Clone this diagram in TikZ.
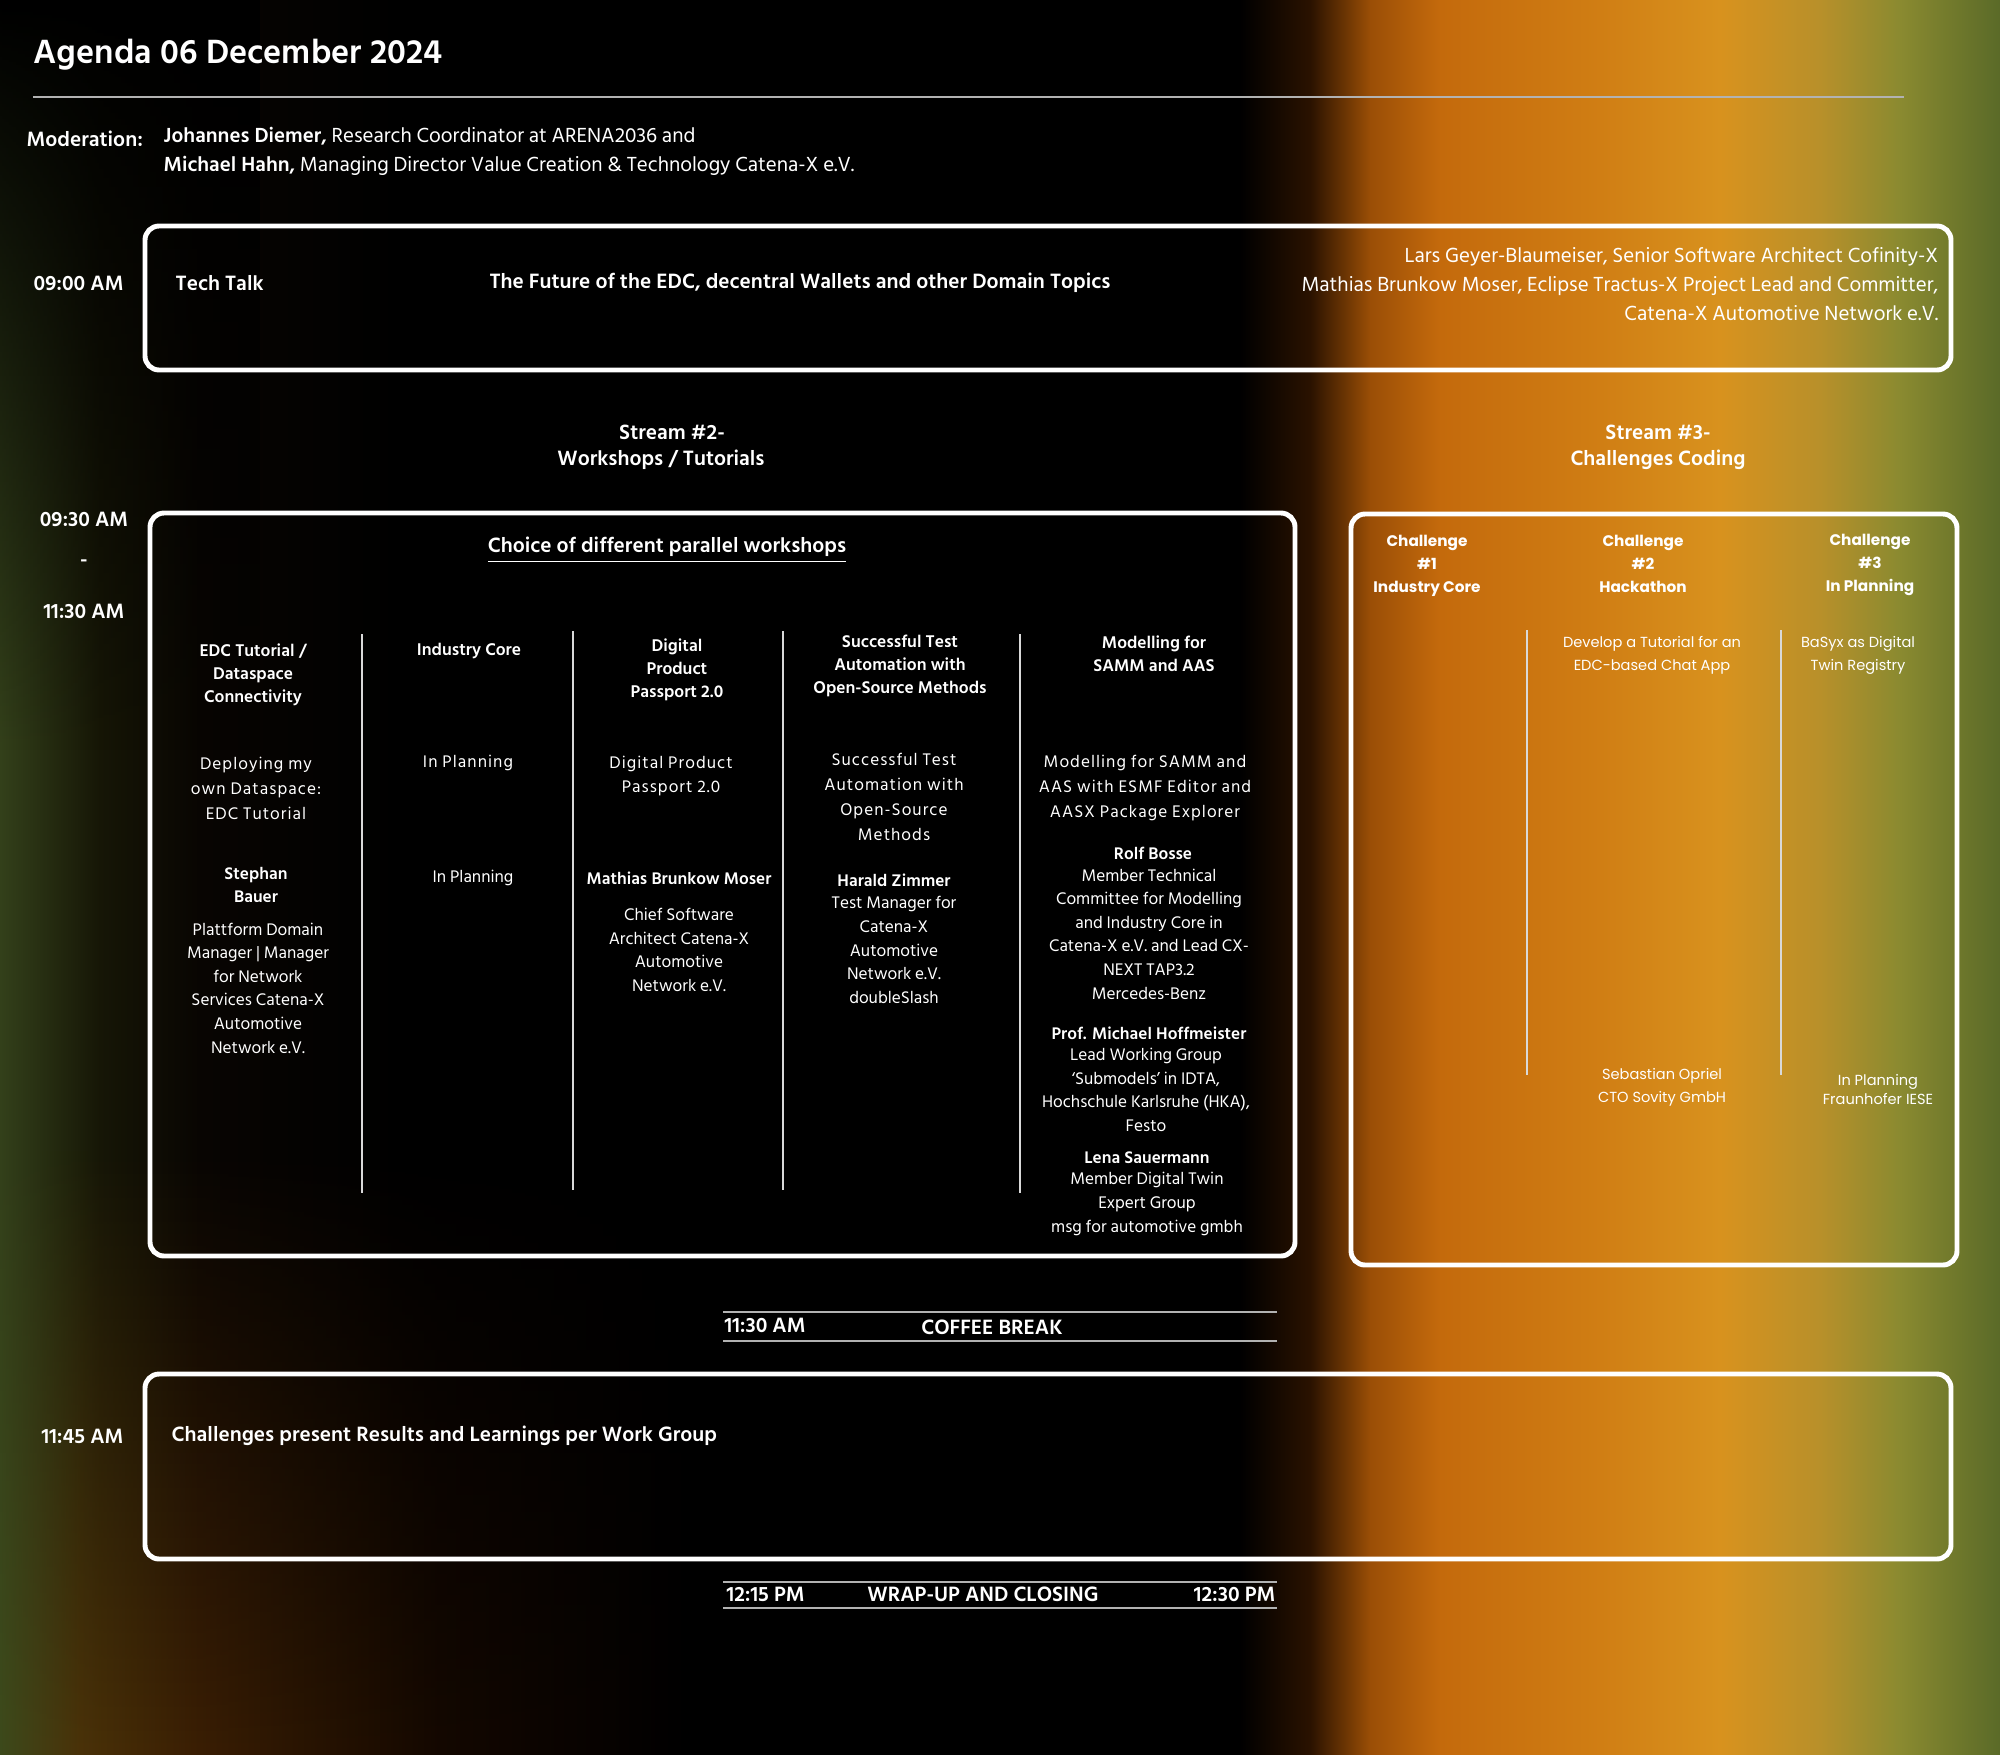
\documentclass[tikz,border=0pt]{standalone}
\usepackage{fontspec}
\setmainfont{Hind Siliguri}
\newfontfamily\espace[LetterSpace=6]{Hind Siliguri}
\newfontfamily\popp{Poppins}
\usetikzlibrary{fadings}

\definecolor{fA}{HTML}{33401A}
\definecolor{fB}{HTML}{161606}
\definecolor{fC}{HTML}{080502}
\definecolor{fD}{HTML}{2A1200}
\definecolor{fE}{HTML}{9A4E06}
\definecolor{fF}{HTML}{C46A0C}
\definecolor{fG}{HTML}{D07E14}
\definecolor{fH}{HTML}{D8921E}
\definecolor{fI}{HTML}{B8902A}
\definecolor{fJ}{HTML}{8A8A30}
\definecolor{fK}{HTML}{5A6A28}
\definecolor{bA}{HTML}{3D4A1C}
\definecolor{bB}{HTML}{4A3208}
\definecolor{bC}{HTML}{3A1E04}
\definecolor{bD}{HTML}{140800}

\pgfdeclarehorizontalshading{fond}{100bp}{color(0bp)=(fA); color(25bp)=(fA);
  color(27.5bp)=(fB); color(30bp)=(fC); color(35bp)=(black); color(56bp)=(black);
  color(57.75bp)=(fD); color(59.25bp)=(fE); color(61bp)=(fF); color(65bp)=(fG);
  color(68bp)=(fH); color(70.5bp)=(fI); color(72.5bp)=(fJ); color(75bp)=(fK);
  color(100bp)=(fK)}
\pgfdeclarehorizontalshading{fondbas}{100bp}{color(0bp)=(bA); color(25bp)=(bA);
  color(29bp)=(bB); color(35bp)=(bC); color(47bp)=(bD); color(60bp)=(black);
  color(100bp)=(black)}

\begin{document}
\begin{tikzpicture}[x=0.01cm, y=-0.01cm,
    every node/.style={text=white, inner sep=0pt},
    cadre/.style={draw=white, line width=1.4pt, rounded corners=4pt},
    trait/.style={draw=white!85!black, line width=0.4pt},
    regle/.style={draw=white!70!black, line width=0.6pt},
    gras/.style={font=\fontsize{6.05}{8.4}\selectfont\bfseries},
    normal/.style={font=\fontsize{5.95}{8.3}\selectfont},
    titrecol/.style={align=center, font=\fontsize{4.95}{6.6}\selectfont\bfseries},
    desc/.style={align=center, font=\espace\fontsize{4.9}{7.1}\selectfont},
    nom/.style={align=center, font=\fontsize{4.9}{6.7}\selectfont\bfseries},
    role/.style={align=center, font=\fontsize{4.9}{6.7}\selectfont},
    defi/.style={align=center, font=\popp\fontsize{4.35}{6.5}\selectfont\bfseries},
    defitxt/.style={align=center, font=\popp\fontsize{4.15}{6.5}\selectfont}]

    % fond
    \shade[shading=fond] (0, 0) rectangle (2000, 1754);
    \fill[black, path fading=south] (0, 0) rectangle (260, 750);
    \shade[shading=fondbas, path fading=north] (0, 1150) rectangle (1000, 1754);

    % titre
    \node[anchor=west, font=\fontsize{9.8}{11}\selectfont\bfseries] (titre) at (33, 55) {Agenda 06 December 2024};
    \draw[regle] (33, 97) -- (1904, 97);
    \node[anchor=west, gras] (moderation) at (26, 139) {Moderation:};
    \node[anchor=west, normal, align=left] (moderateurs) at (163, 151)
        {\textbf{Johannes Diemer,} Research Coordinator at ARENA2036 and\\
         \textbf{Michael Hahn,} Managing Director Value Creation \& Technology Catena-X e.V.};

    % tech talk
    \draw[cadre] (145, 226) rectangle (1951, 370);
    \node[anchor=west, gras] (h0900) at (33, 283) {09:00 AM};
    \node[anchor=west, gras] (techtalk) at (175, 283) {Tech Talk};
    \node[gras] (futur) at (800, 283) {The Future of the EDC, decentral Wallets and other Domain Topics};
    \node[anchor=east, normal, align=right] (orateurs) at (1939, 284)
        {Lars Geyer-Blaumeiser, Senior Software Architect Cofinity-X\\
         Mathias Brunkow Moser, Eclipse Tractus-X Project Lead and Committer,\\
         Catena-X Automotive Network e.V.};

    % streams
    \node[gras] (stream2) at (672, 432) {Stream \#2-};
    \node[gras] (stream2b) at (661, 460) {Workshops / Tutorials};
    \node[gras] (stream3) at (1658, 432) {Stream \#3-};
    \node[gras] (stream3b) at (1658, 460) {Challenges Coding};
    \node[gras] (h0930) at (84, 519) {09:30 AM};
    \node[gras] (tiret) at (84, 563) {-};
    \node[gras] (h1130) at (84, 611) {11:30 AM};

    % stream 2
    \draw[cadre] (150, 513) rectangle (1295, 1256);
    \node[gras] (choix) at (667, 550) {\underline{Choice of different parallel workshops}};
    \draw[trait] (362, 634) -- (362, 1193);
    \draw[trait] (573, 631) -- (573, 1190);
    \draw[trait] (783, 631) -- (783, 1190);
    \draw[trait] (1020, 634) -- (1020, 1193);

    \node[titrecol] (edc) at (253, 675) {EDC Tutorial /\\Dataspace\\Connectivity};
    \node[titrecol] (indcore) at (469, 651) {Industry Core};
    \node[titrecol] (dpp) at (677, 670) {Digital\\Product\\Passport 2.0};
    \node[titrecol] (test) at (900, 666) {Successful Test\\Automation with\\Open-Source Methods};
    \node[titrecol] (samm) at (1154, 654) {Modelling for\\SAMM and AAS};

    \node[desc] (edcdesc) at (256, 788) {Deploying my\\own Dataspace:\\EDC Tutorial};
    \node[desc] (indcoredesc) at (468, 763) {In Planning};
    \node[desc] (dppdesc) at (671, 776) {Digital Product\\Passport 2.0};
    \node[desc] (testdesc) at (894, 797) {Successful Test\\Automation with\\Open-Source\\Methods};
    \node[desc] (sammdesc) at (1145, 788) {Modelling for SAMM and\\AAS with ESMF Editor and\\AASX Package Explorer};

    \node[nom] (bauer) at (256, 885) {Stephan\\Bauer};
    \node[role] (bauerrole) at (258, 988) {Plattform Domain\\Manager | Manager\\for Network\\Services Catena-X\\Automotive\\Network e.V.};
    \node[role] (indcoreorat) at (473, 878) {In Planning};
    \node[nom] (moser) at (679, 878) {Mathias Brunkow Moser};
    \node[role] (moserrole) at (679, 950) {Chief Software\\Architect Catena-X\\Automotive\\Network e.V.};
    \node[nom] (zimmer) at (894, 880) {Harald Zimmer};
    \node[role] (zimmerrole) at (894, 950) {Test Manager for\\Catena-X\\Automotive\\Network e.V.\\doubleSlash};
    \node[nom] (bosse) at (1153, 853) {Rolf Bosse};
    \node[role] (bosserole) at (1149, 934) {Member Technical\\Committee for Modelling\\and Industry Core in\\Catena-X e.V. and Lead CX-\\NEXT TAP3.2\\Mercedes-Benz};
    \node[nom] (hoffmeister) at (1149, 1033) {Prof. Michael Hoffmeister};
    \node[role] (hoffmeisterrole) at (1146, 1090) {Lead Working Group\\‘Submodels’ in IDTA,\\Hochschule Karlsruhe (HKA),\\Festo};
    \node[nom] (sauermann) at (1147, 1158) {Lena Sauermann};
    \node[role] (sauermannrole) at (1147, 1204) {Member Digital Twin\\Expert Group\\msg for automotive gmbh};

    % stream 3
    \draw[cadre] (1351, 514) rectangle (1957, 1265);
    \node[defi] (defi1) at (1427, 566) {Challenge\\\#1\\Industry Core};
    \node[defi] (defi2) at (1643, 564) {Challenge\\\#2\\Hackathon};
    \node[defi] (defi3) at (1870, 565) {Challenge\\\#3\\In Planning};
    \draw[trait] (1527, 630) -- (1527, 1075);
    \draw[trait] (1781, 630) -- (1781, 1075);
    \node[defitxt] (chatapp) at (1652, 655) {Develop a Tutorial for an\\EDC-based Chat App};
    \node[defitxt] (basyx) at (1858, 655) {BaSyx as Digital\\Twin Registry};
    \node[defitxt] (opriel) at (1662, 1087) {Sebastian Opriel\\CTO Sovity GmbH};
    \node[defitxt, font=\popp\fontsize{4.15}{5.4}\selectfont] (iese) at (1878, 1089) {In Planning\\Fraunhofer IESE};

    % pause
    \draw[regle] (723, 1312) -- (1277, 1312);
    \draw[regle] (723, 1341) -- (1277, 1341);
    \node[anchor=west, gras] (h1130b) at (724, 1325) {11:30 AM};
    \node[gras] (pause) at (992, 1327) {COFFEE BREAK};

    % resultats
    \draw[cadre] (145, 1374) rectangle (1951, 1559);
    \node[anchor=west, gras] (h1145) at (41, 1436) {11:45 AM};
    \node[anchor=west, gras] (resultats) at (171, 1436) {Challenges present Results and Learnings per Work Group};

    % cloture
    \draw[regle] (723, 1582) -- (1277, 1582);
    \draw[regle] (723, 1608) -- (1277, 1608);
    \node[anchor=west, gras] (h1215) at (726, 1594) {12:15 PM};
    \node[gras] (cloture) at (983, 1594) {WRAP-UP AND CLOSING};
    \node[anchor=east, gras] (h1230) at (1276, 1594) {12:30 PM};

  \end{tikzpicture}
\end{document}
